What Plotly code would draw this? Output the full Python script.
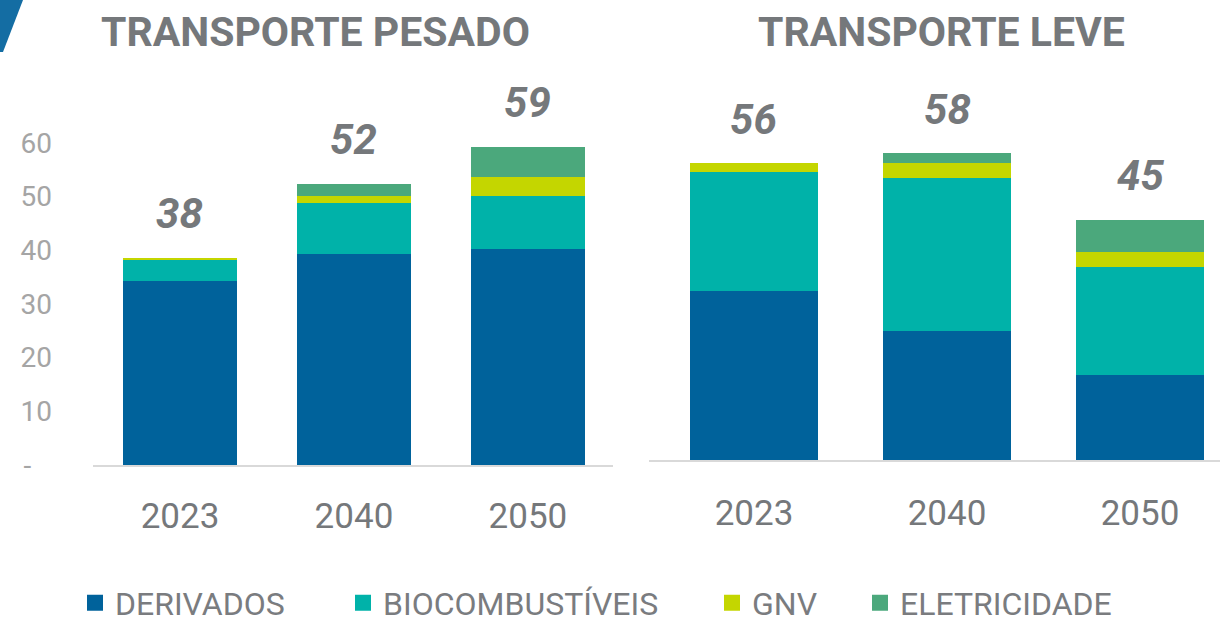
import plotly.graph_objects as go

years = ["2023", "2040", "2050"]
series_names = ["DERIVADOS", "BIOCOMBUSTÍVEIS", "GNV", "ELETRICIDADE"]
colors = ["#00629B", "#00B2A9", "#C4D600", "#4BA87C"]

# Transporte pesado
pesado_derivados = [34.2, 39.4, 40.3]
pesado_bio = [4.1, 9.5, 9.9]
pesado_gnv = [0.3, 1.3, 3.5]
pesado_eletricidade = [0.0, 2.2, 5.6]
pesado_totais = ["38", "52", "59"]

# Transporte leve
leve_derivados = [31.5, 24.0, 15.9]
leve_bio = [22.1, 28.6, 20.0]
leve_gnv = [1.7, 2.8, 2.8]
leve_eletricidade = [0.0, 1.8, 6.1]
leve_totais = ["56", "58", "45"]

y_ticks = [0, 10, 20, 30, 40, 50, 60]
y_ticktext = ["-\u00a0\u00a0\u00a0", "10", "20", "30", "40", "50", "60"]

gray = "#75787B"
font_family = "Roboto, 'Open Sans', sans-serif"

W, H = 1220, 623
legend_ids = ["legend", "legend2", "legend3", "legend4"]
legend_x_px = [75, 343, 712, 860]

fig = go.Figure()

pesado = [pesado_derivados, pesado_bio, pesado_gnv, pesado_eletricidade]
leve = [leve_derivados, leve_bio, leve_gnv, leve_eletricidade]

for i, name in enumerate(series_names):
    fig.add_trace(go.Bar(x=years, y=pesado[i], name=name, marker_color=colors[i],
                         marker_line_width=0, width=0.66, showlegend=False,
                         xaxis="x", yaxis="y"))
    fig.add_trace(go.Bar(x=years, y=leve[i], name=name, marker_color=colors[i],
                         marker_line_width=0, width=0.66, showlegend=False,
                         xaxis="x2", yaxis="y2"))
    # legend entries
    fig.add_trace(go.Scatter(x=[None], y=[None], mode="markers", name=name,
                             marker=dict(symbol="square", size=18, color=colors[i]),
                             showlegend=True, legend=legend_ids[i], xaxis="x", yaxis="y"))

annotations = []
for j, yr in enumerate(years):
    tot_p = sum(s[j] for s in pesado)
    tot_l = sum(s[j] for s in leve)
    annotations.append(dict(x=j, y=tot_p, xref="x", yref="y", text=pesado_totais[j],
                            showarrow=False, yanchor="middle", yshift=44,
                            font=dict(family=font_family, size=42, color=gray,
                                      weight="bold", style="italic")))
    annotations.append(dict(x=j, y=tot_l, xref="x2", yref="y2", text=leve_totais[j],
                            showarrow=False, yanchor="middle", yshift=44,
                            font=dict(family=font_family, size=42, color=gray,
                                      weight="bold", style="italic")))

annotations.append(dict(x=315 / W, y=1 - 32 / H, xref="paper", yref="paper",
                        text="TRANSPORTE PESADO", showarrow=False,
                        xanchor="center", yanchor="middle",
                        font=dict(family=font_family, size=41, color=gray, weight="bold")))
annotations.append(dict(x=941 / W, y=1 - 32 / H, xref="paper", yref="paper",
                        text="TRANSPORTE LEVE", showarrow=False,
                        xanchor="center", yanchor="middle",
                        font=dict(family=font_family, size=41, color=gray, weight="bold")))

scale = 5.367
left_base, right_base = 465, 460
yr_max = 70

legend_common = dict(orientation="h", xanchor="left", y=(H - 603) / H, yanchor="middle",
                     font=dict(size=32, color="#7A7C7F"), itemsizing="trace",
                     bgcolor="rgba(0,0,0,0)")

fig.update_layout(
    width=W, height=H,
    barmode="stack",
    plot_bgcolor="white", paper_bgcolor="white",
    margin=dict(l=0, r=0, t=0, b=0, autoexpand=False),
    font=dict(family=font_family, color=gray),
    xaxis=dict(domain=[93 / W, 613 / W], range=[-0.5, 2.489], type="category",
               showline=True, linecolor="#D9D9D9", linewidth=2, showgrid=False,
               ticks="", ticklabelstandoff=19,
               tickfont=dict(size=35, color=gray), anchor="y"),
    yaxis=dict(domain=[(H - left_base) / H, (H - left_base + yr_max * scale) / H],
               range=[0, yr_max], showgrid=False, zeroline=False, showline=False,
               tickvals=y_ticks, ticktext=y_ticktext, ticklabelstandoff=40,
               tickfont=dict(size=28, color="#A5A5A5"), anchor="x"),
    xaxis2=dict(domain=[649 / W, 1.0], range=[-0.544, 2.4145], type="category",
                showline=True, linecolor="#D9D9D9", linewidth=2, showgrid=False,
                ticks="", ticklabelstandoff=21,
                tickfont=dict(size=35, color=gray), anchor="y2"),
    yaxis2=dict(domain=[(H - right_base) / H, (H - right_base + yr_max * scale) / H],
                range=[0, yr_max], showgrid=False, zeroline=False, showline=False,
                showticklabels=False, anchor="x2"),
    legend=dict(x=legend_x_px[0] / W, **legend_common),
    legend2=dict(x=legend_x_px[1] / W, **legend_common),
    legend3=dict(x=legend_x_px[2] / W, **legend_common),
    legend4=dict(x=legend_x_px[3] / W, **legend_common),
    annotations=annotations,
    shapes=[dict(type="path", xref="paper", yref="paper",
                 path=f"M 0 1 L {23 / W} 1 L {3 / W} {1 - 52 / H} L 0 {1 - 52 / H} Z",
                 fillcolor="#146DA3", line=dict(width=0))],
)

fig.write_html("out.html", config={"displayModeBar": False},
               post_script="document.body.style.margin='0';document.body.style.overflow='hidden';")
